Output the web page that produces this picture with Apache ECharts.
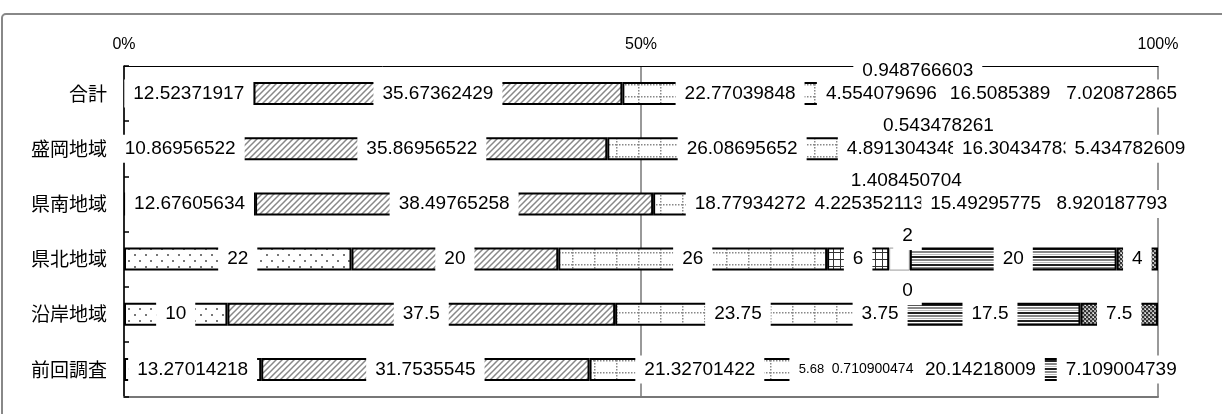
<!DOCTYPE html>
<html><head><meta charset="utf-8">
<script src="https://cdn.jsdelivr.net/npm/echarts@6/dist/echarts.min.js"></script>
<style>html,body{margin:0;padding:0;background:#fff}#c{width:1222px;height:414px}</style>
</head><body><div id="c"></div>
<script>
const categories = ['合計','盛岡地域','県南地域','県北地域','沿岸地域','前回調査'];
const s1 = [12.52371917, 10.86956522, 12.67605634, 22, 10, 13.27014218];
const s2 = [35.67362429, 35.86956522, 38.49765258, 20, 37.5, 31.7535545];
const s3 = [22.77039848, 26.08695652, 18.77934272, 26, 23.75, 21.32701422];
const s4 = [4.554079696, 4.891304348, 4.225352113, 6, 3.75, 5.687203791];
const s5 = [0.948766603, 0.543478261, 1.408450704, 2, 0, 0.710900474];
const s6 = [16.5085389, 16.30434783, 15.49295775, 20, 17.5, 20.14218009];
const s7 = [7.020872865, 5.434782609, 8.920187793, 4, 7.5, 7.109004739];
const xTicks = ['0%','50%','100%'];

function tile(w, h, draw) {
  const c = document.createElement('canvas'); c.width = w; c.height = h;
  const g = c.getContext('2d'); g.fillStyle = '#fff'; g.fillRect(0, 0, w, h); draw(g);
  return {image: c, repeat: 'repeat'};
}
const pat = [
  tile(11, 12, g => { g.fillStyle = '#777'; g.fillRect(2, 2, 2, 2); g.fillRect(7, 8, 2, 2); }),
  tile(6, 6, g => { g.strokeStyle = '#888'; g.lineWidth = 1.5; g.beginPath();
    g.moveTo(0, 6); g.lineTo(6, 0); g.moveTo(-1, 1); g.lineTo(1, -1); g.moveTo(5, 7); g.lineTo(7, 5); g.stroke(); }),
  tile(22, 12, g => { g.fillStyle = '#888'; for (let y = 0; y < 12; y += 3) g.fillRect(0, y, 1.5, 1.5);
    for (let x = 0; x < 22; x += 3) g.fillRect(x, 0, 1.5, 1.5); }),
  tile(7, 7, g => { g.fillStyle = '#333'; g.fillRect(0, 0, 7, 1); g.fillRect(0, 0, 1, 7); }),
  '#fff',
  tile(1, 8, g => { const cs = ['#222','#222','#fff','#888','#888','#fff','#bbb','#fff'];
    cs.forEach((col, i) => { g.fillStyle = col; g.fillRect(0, i, 1, 1); }); }),
  tile(4, 4, g => { g.fillStyle = '#333'; g.fillRect(0, 0, 4, 4); g.fillStyle = '#aaa';
    g.fillRect(0, 0, 2, 2); g.fillRect(2, 2, 2, 2); g.fillStyle = '#eee'; g.fillRect(1, 1, 1, 1); })
];

const seriesVals = [s1, s2, s3, s4, s5, s6, s7];
const baseLabel = {show: true, position: 'inside', color: '#000', fontSize: 19, fontFamily: 'Liberation Sans, Arial, sans-serif',
  backgroundColor: '#fff', padding: [4, 9], lineHeight: 20};
const last = categories.length - 1;

const series = seriesVals.map((vals, si) => ({
  type: 'bar', stack: 'all', barWidth: 23,
  itemStyle: si === 4 ? {color: pat[si], borderColor: '#999', borderWidth: 1}
                      : {color: pat[si], borderColor: '#000', borderWidth: 2},
  label: Object.assign({}, baseLabel, si === 4 ? {offset: [8, -23]} : {}),
  data: vals.map((v, ci) => {
    if (ci === last && si === 3) return {value: v, label: {fontSize: 13, lineHeight: 16, width: 30, overflow: 'truncate', ellipsis: '', offset: [-28, 0], padding: [5, 7]}};
    if (ci === last && si === 4) return {value: v, label: {fontSize: 14, lineHeight: 16, offset: [0, 0], padding: [5, 6]}};
    return v;
  })
}));

const chart = echarts.init(document.getElementById('c'));
chart.setOption({
  animation: false,
  grid: {left: 124, right: 64, top: 66, bottom: 17},
  graphic: [{type: 'rect', z: -10, shape: {x: 2, y: 14, width: 1260, height: 440, r: 4},
    style: {fill: 'none', stroke: '#888', lineWidth: 2}}],
  xAxis: [{
    type: 'value', position: 'top', min: 0, max: 100, interval: 50,
    axisLine: {show: true, lineStyle: {color: '#000', width: 1}},
    axisTick: {show: false},
    splitLine: {show: true, lineStyle: {color: '#777', width: 1.5}},
    axisLabel: {margin: 13, color: '#000', fontSize: 16, fontFamily: 'Liberation Sans, Arial',
      formatter: v => xTicks[Math.round(v / 50)]}
  }, {
    type: 'value', position: 'bottom', min: 0, max: 100, interval: 50,
    axisLine: {show: true, onZero: false, lineStyle: {color: '#777', width: 2}},
    axisTick: {show: false}, axisLabel: {show: false}, splitLine: {show: false}
  }],
  yAxis: {
    type: 'category', inverse: true, data: categories,
    axisLine: {show: true, lineStyle: {color: '#000', width: 1.5}},
    axisTick: {show: true, inside: true, length: 5, lineStyle: {color: '#000', width: 1.5}},
    axisLabel: {margin: 17, color: '#000', fontSize: 19, fontFamily: 'Noto Sans CJK JP'}
  },
  series: series
});
</script></body></html>
